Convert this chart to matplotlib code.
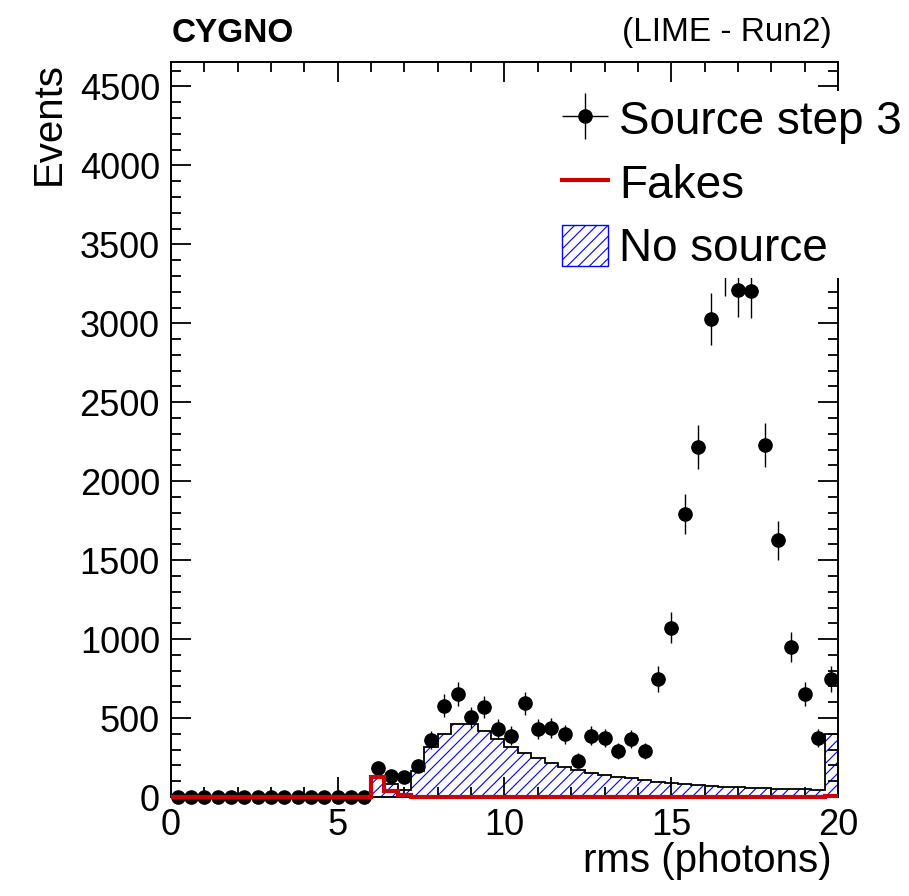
import numpy as np
import matplotlib
matplotlib.use("Agg")
import matplotlib.pyplot as plt
from matplotlib.ticker import MultipleLocator
from matplotlib.patches import Patch
from matplotlib.lines import Line2D

plt.rcParams['font.family'] = ['Liberation Sans', 'DejaVu Sans']
plt.rcParams['hatch.linewidth'] = 0.8

# ---- data (50 bins of 0.4 photons from 0 to 20) ----
bin_edges = np.linspace(0, 20, 51)

source_step3 = [0, 0, 0, 0, 0, 0, 0, 0, 0, 0, 0, 0, 0, 0, 0,
                182, 133, 129, 199, 358, 578, 652, 506, 570, 430,
                389, 595, 430, 436, 398, 231, 389, 372, 294, 366,
                294, 747, 1073, 1790, 2216, 3030, 3350, 3208, 3202, 2229,
                1625, 950, 650, 373, 745]
source_step3_err = [0, 0, 0, 0, 0, 0, 0, 0, 0, 0, 0, 0, 0, 0, 0,
                    40, 35, 34, 42, 57, 72, 77, 67, 72, 62,
                    59, 73, 62, 63, 60, 46, 59, 58, 51, 57,
                    51, 82, 98, 127, 141, 165, 174, 170, 170, 142,
                    121, 92, 76, 58, 82]
no_source = [0, 0, 0, 0, 0, 0, 0, 0, 0, 0, 0, 0, 0, 0, 0,
             133, 80, 47, 163, 316, 401, 460, 460, 418, 370,
             316, 277, 245, 214, 193, 171, 154, 140, 129, 119,
             108, 97, 87, 81, 76, 70, 65, 63, 59, 55,
             51, 49, 49, 46, 396]
fakes = [0, 0, 0, 0, 0, 0, 0, 0, 0, 0, 0, 0, 0, 0, 0,
         125, 38, 10, 0, 0, 0, 0, 0, 0, 0,
         0, 0, 0, 0, 0, 0, 0, 0, 0, 0,
         0, 0, 0, 0, 0, 0, 0, 0, 0, 0,
         0, 0, 0, 0, 8]

labels = ["Source step 3", "Fakes", "No source"]
x_title = "rms (photons)"
y_title = "Events"

# ---- figure ----
W, H = 909, 896
fig = plt.figure(figsize=(W / 100, H / 100), dpi=100)
ax = fig.add_axes([171 / W, 1 - 797 / H, (838 - 171) / W, (797 - 62) / H])

centers = 0.5 * (bin_edges[:-1] + bin_edges[1:])
halfw = 0.5 * np.diff(bin_edges)

blue = '#0000ff'
red = '#cc0000'

# No source: hatched histogram with black outline
ax.stairs(no_source, bin_edges, fill=True, facecolor='none', edgecolor=blue,
          hatch='///', linewidth=0, zorder=1)
ax.stairs(no_source, bin_edges, color='black', linewidth=1.3, zorder=2)

# Source step 3: points with errors
eb = ax.errorbar(centers, source_step3, yerr=source_step3_err, xerr=halfw,
                 fmt='o', color='black', markersize=9.5, elinewidth=1.0,
                 capsize=0, zorder=3)
eb[0].set_clip_on(False)

# Fakes: red line
fk = ax.stairs(fakes, bin_edges, color=red, linewidth=3.0, zorder=4,
               baseline=None)
fk.set_clip_on(False)

ax.set_xlim(0, 20)
ax.set_ylim(0, 4655)

ax.xaxis.set_major_locator(MultipleLocator(5))
ax.xaxis.set_minor_locator(MultipleLocator(1))
ax.yaxis.set_major_locator(MultipleLocator(500))
ax.yaxis.set_minor_locator(MultipleLocator(100))
ax.tick_params(which='both', direction='in', top=True, right=True,
               width=1.3, labelsize=26)
ax.tick_params(which='major', length=14.5)
ax.tick_params(which='minor', length=7.2)
ax.tick_params(axis='x', pad=8)
ax.tick_params(axis='y', pad=8)
for s in ax.spines.values():
    s.set_linewidth(1.4)

ax.set_xlabel(x_title, fontsize=29, loc='right')
ax.xaxis.set_label_coords(0.99, -0.061)
ax.set_ylabel(y_title, fontsize=29, loc='top')
ax.yaxis.set_label_coords(-0.155, 1.0)

fig.text(172 / W, 1 - 33 / H, "CYGNO", fontsize=24, fontweight='bold',
         ha='left', va='center')
fig.text(832 / W, 1 - 33 / H, "(LIME - Run2)", fontsize=24,
         ha='right', va='center')

handles = [eb,
           Line2D([], [], color=red, linewidth=3.0),
           Patch(facecolor='white', edgecolor=blue, hatch='///', linewidth=1.0)]
leg = fig.legend(handles, labels, loc='upper left',
                 bbox_to_anchor=(555 / W, 1 - 91 / H), fontsize=33,
                 frameon=True, fancybox=False, framealpha=1.0,
                 facecolor='white', edgecolor='none', borderpad=0.15,
                 handlelength=1.0, handleheight=1.0, handletextpad=0.25,
                 labelspacing=0.38, borderaxespad=0)
leg.set_zorder(10)

fig.savefig("out.png", dpi=100)
